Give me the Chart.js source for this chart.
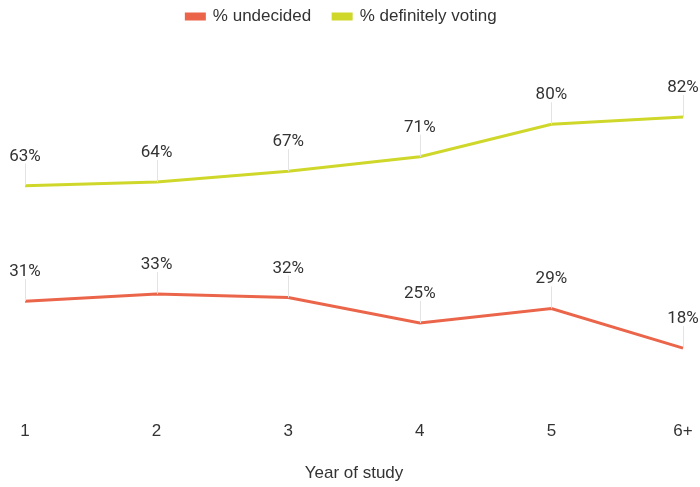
<!DOCTYPE html>
<html>
<head>
<meta charset="utf-8">
<script src="https://cdn.jsdelivr.net/npm/chart.js@4/dist/chart.umd.min.js"></script>
<style>
  html, body { margin: 0; padding: 0; background: #fff; }
  #wrap { width: 700px; height: 487px; }
</style>
</head>
<body>
<div id="wrap"><canvas id="graph"></canvas></div>
<script>
const years = ["1", "2", "3", "4", "5", "6+"];
const undecided = [31, 33, 32, 25, 29, 18];
const definitelyVoting = [63, 64, 67, 71, 80, 82];

// value labels with a thin grey stem above each point
const pointLabels = {
    id: "pointLabels",
    afterDatasetsDraw(chart) {
        const ctx = chart.ctx;
        ctx.save();
        chart.data.datasets.forEach((ds, i) => {
            const meta = chart.getDatasetMeta(i);
            meta.data.forEach((pt, j) => {
                ctx.strokeStyle = "#e3e3e3";
                ctx.lineWidth = 1;
                ctx.beginPath();
                ctx.moveTo(Math.round(pt.x) + 0.5, pt.y);
                ctx.lineTo(Math.round(pt.x) + 0.5, pt.y - 22);
                ctx.stroke();
                ctx.fillStyle = "#333";
                ctx.font = "17px Roboto";
                ctx.textAlign = "center";
                ctx.textBaseline = "alphabetic";
                ctx.fillText(ds.data[j] + "%", pt.x, pt.y - 25);
            });
        });
        ctx.restore();
    }
};

// the legend sits at the very top, with empty room below it
const liftLegend = {
    id: "liftLegend",
    afterLayout(chart) {
        chart.legend.top -= 17;
        chart.legend.bottom -= 17;
    }
};

new Chart(document.getElementById("graph"), {
    type: "line",
    data: {
        labels: years,
        datasets: [
            {
                label: "% undecided",
                data: undecided,
                borderColor: "#eb654a",
                backgroundColor: "#eb654a",
                borderWidth: 3,
                pointRadius: 0,
                tension: 0
            },
            {
                label: "% definitely voting",
                data: definitelyVoting,
                borderColor: "#cfd82a",
                backgroundColor: "#cfd82a",
                borderWidth: 3,
                pointRadius: 0,
                tension: 0
            }
        ]
    },
    options: {
        responsive: true,
        maintainAspectRatio: false,
        animation: false,
        layout: {padding: {left: 0, right: 17, top: 3, bottom: 0}},
        plugins: {
            legend: {
                display: true,
                position: "top",
                labels: {
                    boxWidth: 18,
                    boxHeight: 5,
                    padding: 22,
                    color: "#333",
                    font: {family: "Liberation Sans", size: 17}
                }
            },
            tooltip: {enabled: false}
        },
        scales: {
            x: {
                offset: false,
                grid: {display: false},
                border: {display: false},
                ticks: {
                    color: "#333",
                    padding: 0,
                    font: {family: "Liberation Sans", size: 17}
                },
                title: {
                    display: true,
                    text: "Year of study",
                    color: "#333",
                    padding: {top: 22, bottom: 3},
                    font: {family: "Liberation Sans", size: 17}
                }
            },
            y: {
                display: true,
                min: 0,
                max: 100,
                grid: {display: false},
                border: {display: false},
                ticks: {display: false},
                afterFit(scale) {
                    scale.width = 25;
                }
            }
        }
    },
    plugins: [pointLabels, liftLegend]
});
</script>
</body>
</html>
